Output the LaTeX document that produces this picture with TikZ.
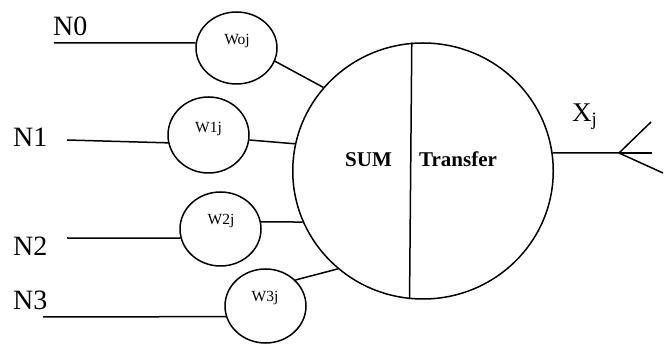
\documentclass[tikz,border=0pt]{standalone}
\usepackage{fontspec}
\setmainfont{Liberation Serif}
\usetikzlibrary{shapes.geometric}
\begin{document}
\begin{tikzpicture}[x=1pt,y=-1pt,
  wire/.style={line width=1.5pt},
  weight/.style={ellipse,draw,line width=1.5pt,minimum width=81pt,inner sep=0pt},
  wlabel/.style={anchor=base,inner sep=0pt,font=\fontsize{15.5}{17}\selectfont},
  nlabel/.style={anchor=base west,inner sep=0pt,font=\fontsize{28}{30}\selectfont},
  blabel/.style={anchor=base west,inner sep=0pt,font=\fontsize{21}{23}\selectfont\bfseries}]
\useasboundingbox (0,0) rectangle (669,344);

% big neuron
\node[ellipse,draw,line width=1.5pt,minimum width=260.5pt,minimum height=256pt,inner sep=0pt] (big) at (423,171) {};
\draw[wire] (big.95.4) -- (big.264.6);
\node[blabel] (sum) at (345,167) {SUM};
\node[blabel] (tr) at (419,167) {Transfer};

% weights
\node[weight,minimum height=72pt] (w0) at (236.5,48) {};
\node[weight,minimum height=76pt] (w1) at (208.5,135) {};
\node[weight,minimum height=74pt] (w2) at (220.5,229) {};
\node[weight,minimum height=74pt] (w3) at (265.5,306) {};
\node[wlabel] (l0) at (237,45) {Woj};
\node[wlabel] (l1) at (208.5,133) {W1j};
\node[wlabel] (l2) at (221,225) {W2j};
\node[wlabel] (l3) at (265,302) {W3j};

% inputs
\node[nlabel] (n0) at (53,36) {N0};
\node[nlabel] (n1) at (13,147) {N1};
\node[nlabel] (n2) at (13,256) {N2};
\node[nlabel] (n3) at (13,310) {N3};
\coordinate (s0) at (54,43);
\coordinate (s1) at (67,140);
\coordinate (s2) at (67,238);
\coordinate (s3) at (43,317);
\draw[wire] (s0) -- (w0.173);
\draw[wire] (s1) -- (w1.191);
\draw[wire] (s2) -- (w2.193);
\draw[wire] (s3) -- (w3.195);

% weights to neuron
\draw[wire] (w0.-19) -- (big.140);
\draw[wire] (w1.-7) -- (big.168.3);
\draw[wire] (w2.10) -- (big.203.4);
\draw[wire] (w3.41) -- (big.229);

% output
\coordinate (fork) at (619,153);
\coordinate (o1) at (651,122);
\coordinate (o2) at (652,153);
\coordinate (o3) at (663,173);
\draw[wire] (big.8) -- (fork);
\draw[wire] (fork) -- (o1);
\draw[wire] (fork) -- (o2);
\draw[wire] (fork) -- (o3);
\node[nlabel,font=\fontsize{27}{29}\selectfont] (xj) at (572,122) {X\textsubscript{j}};
\end{tikzpicture}
\end{document}
